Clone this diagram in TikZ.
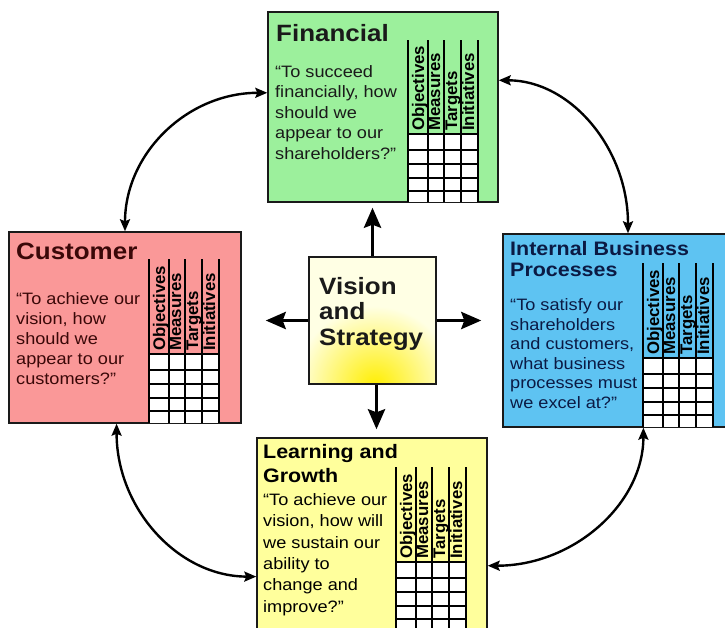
\documentclass[tikz,border=0pt]{standalone}
\usepackage{fontspec}
\setmainfont{Liberation Sans}[FakeStretch=1.1]
\newfontfamily\headfont{Liberation Sans}
\usepackage{tikz}
\usetikzlibrary{calc,arrows.meta}
\definecolor{finbg}{HTML}{9CF09C}
\definecolor{custbg}{HTML}{FA9898}
\definecolor{intbg}{HTML}{5EC3F2}
\definecolor{learnbg}{HTML}{FFFF9C}
\definecolor{vispale}{HTML}{FFFFE4}
\definecolor{visglow}{HTML}{FFEE00}
\definecolor{ink}{HTML}{1A1A1A}
\definecolor{custink}{HTML}{3A0808}
\definecolor{intink}{HTML}{0B1A44}
\tikzset{
  card/.style={draw=ink, line width=1.4pt, inner sep=0pt},
  grid/.style={draw=black, line width=1.2pt},
  hd/.style={font=\headfont\bfseries\fontsize{16.8}{18}\selectfont, rotate=90, anchor=base west, inner sep=0pt},
  ttl/.style={font=\bfseries\fontsize{23.6}{25.5}\selectfont, anchor=base west, inner sep=0pt, align=left},
  ttls/.style={font=\bfseries\fontsize{19.5}{21}\selectfont, anchor=base west, inner sep=0pt, align=left},
  txt/.style={anchor=base west, inner sep=0pt, align=left},
  link/.style={draw=black, line width=2.4pt, {Stealth[length=12pt,width=10pt,inset=2pt]}-{Stealth[length=12pt,width=10pt,inset=2pt]}},
  ray/.style={draw=black, line width=3.6pt, -{Stealth[length=20pt,width=17pt,inset=3pt]}},
}
% #1 name, #2 left x, #3 head top, #4 grid top, #5 bottom
\newcommand{\scoregrid}[5]{%
  \fill[white] (#2,#4) rectangle ({#2+70},#5);
  \foreach \dy in {0,16,30,44,57} \draw[grid] (#2,{#4+\dy}) -- ({#2+70},{#4+\dy});
  \foreach \dx in {0,20,36,53,70} \draw[grid] ({#2+\dx},#3) -- ({#2+\dx},#5);
  \foreach \dx/\lab in {20/Objectives,36/Measures,53/Targets,70/Initiatives}
    \node[hd] (#1-\lab) at ({#2+\dx-4},{#4-3}) {\lab};
}

\begin{document}
\begin{tikzpicture}[x=1pt, y=-1pt]
  \useasboundingbox (0,0) rectangle (725,627);
  \fill[white] (0,0) rectangle (725,627);
  \clip (0,0) rectangle (725,627);

  % perspectives
  \node[card, fill=finbg, minimum width=230, minimum height=190] (fin) at (383,107) {};
  \node[card, fill=custbg, minimum width=232, minimum height=191] (cust) at (125,327.5) {};
  \node[card, fill=intbg, minimum width=250, minimum height=193] (intp) at (628,330.5) {};
  \node[card, fill=learnbg, minimum width=230, minimum height=202] (learn) at (372,539) {};

  \scoregrid{fin}{408}{40}{134}{202}
  \scoregrid{cust}{149}{259}{354}{423}
  \scoregrid{intp}{643}{263}{358}{427}
  \scoregrid{learn}{396}{467}{562}{640}

  % base of a multi-line node is its last line
  \node[ttl, text=ink] (fin-title) at (276,41) {Financial};
  \node[txt, text=ink, font=\fontsize{16.5}{20.5}\selectfont] (fin-text) at (275,159)
    {“To succeed\\financially, how\\should we\\appear to our\\shareholders?”};

  \node[ttl, text=custink] (cust-title) at (16,259) {Customer};
  \node[txt, text=custink, font=\fontsize{16.5}{20}\selectfont] (cust-text) at (16,384)
    {“To achieve our\\vision, how\\should we\\appear to our\\customers?”};

  \node[ttls, text=intink] (intp-title) at (510,276) {Internal Business\\Processes};
  \node[txt, text=intink, font=\fontsize{16.5}{19.5}\selectfont] (intp-text) at (510,408)
    {“To satisfy our\\shareholders\\and customers,\\what business\\processes must\\we excel at?”};

  \node[ttls, font=\bfseries\fontsize{19.5}{24}\selectfont] (learn-title) at (263,482) {Learning and\\Growth};
  \node[txt, font=\fontsize{16.5}{21.3}\selectfont] (learn-text) at (263,612)
    {“To achieve our\\vision, how will\\we sustain our\\ability to\\change and\\improve?”};

  % cause and effect links
  \draw[link] (fin.173) .. controls +(-80,0) and +(0,-78) .. (cust.north);
  \draw[link] (fin.13) .. controls +(72,0) and +(0,-85) .. (intp.north);
  \draw[link] (cust.265) .. controls +(0,85) and +(-78,0) .. (learn.198);
  \draw[link] (intp.279) .. controls +(0,76) and +(86,0) .. (learn.347);

  % vision and strategy
  \begin{scope}
    \clip (309,257) rectangle (436,384);
    \fill[vispale] (309,257) rectangle (436,384);
    \shade[inner color=visglow, outer color=vispale] (375,386) circle (80);
  \end{scope}
  \node[card, minimum size=127] (vis) at (372.5,320.5) {};
  \node[ttl, text=ink] (vis-text) at (319,345) {Vision\\and\\Strategy};

  \draw[ray, shorten >=5pt] (vis.north) -- (vis.north |- fin.south);
  \draw[ray, shorten >=24pt] (vis.west) -- (vis.west -| cust.east);
  \draw[ray, shorten >=21pt] (vis.east) -- (vis.east -| intp.west);
  \draw[ray, shorten >=8pt] ([xshift=4pt]vis.south) -- ([xshift=4pt]vis.south |- learn.north);
\end{tikzpicture}
\end{document}
